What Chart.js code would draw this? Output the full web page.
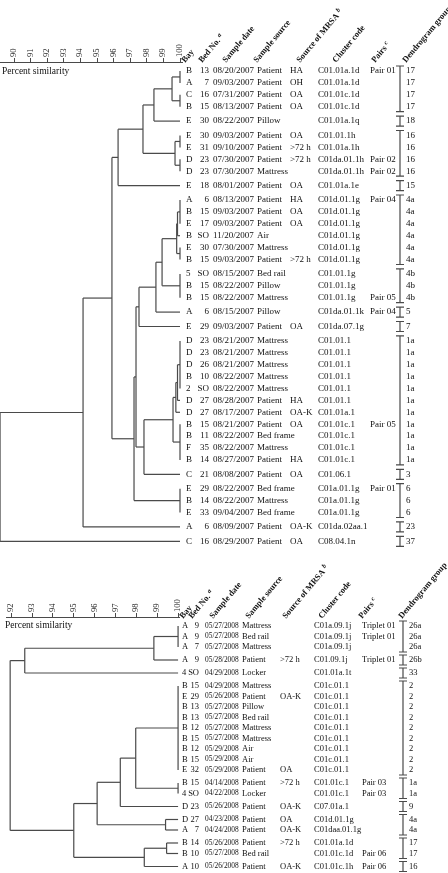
<!DOCTYPE html>
<html>
<head>
<meta charset="utf-8">
<script src="https://cdn.jsdelivr.net/npm/chart.js@4.4.1/dist/chart.umd.min.js"></script>
<style>
  html, body { margin: 0; padding: 0; background: #fff; }
  #wrap { position: relative; width: 448px; height: 873px; overflow: hidden; }
  canvas { position: absolute; left: 0; }
</style>
</head>
<body>
<div id="wrap">
  <canvas id="top2007" width="448" height="560" style="top:0"></canvas>
  <canvas id="bot2008" width="448" height="313" style="top:560px"></canvas>
</div>
<script>
// ---- 2007 isolates (upper dendrogram) ----
const bay07 = ['B','A','C','B','E','E','E','D','D','E','A','B','E','B','E','B','5','B','B','A','E',
  'D','D','D','B','2','D','D','B','B','F','B','C','E','B','E','A','C'];
const bed07 = ['13','7','16','15','30','30','31','23','23','18','6','15','17','SO','30','15','SO','15','15','6','29',
  '23','23','26','10','SO','27','27','15','11','35','14','21','29','14','33','6','16'];
const date07 = ['08/20/2007','09/03/2007','07/31/2007','08/13/2007','08/22/2007','09/03/2007','09/10/2007',
  '07/30/2007','07/30/2007','08/01/2007','08/13/2007','09/03/2007','09/03/2007','11/20/2007','07/30/2007',
  '09/03/2007','08/15/2007','08/22/2007','08/22/2007','08/15/2007','09/03/2007','08/21/2007','08/21/2007',
  '08/21/2007','08/22/2007','08/22/2007','08/28/2007','08/17/2007','08/21/2007','08/22/2007','08/22/2007',
  '08/27/2007','08/08/2007','08/22/2007','08/22/2007','09/04/2007','08/09/2007','08/29/2007'];
const source07 = ['Patient','Patient','Patient','Patient','Pillow','Patient','Patient','Patient','Mattress','Patient',
  'Patient','Patient','Patient','Air','Mattress','Patient','Bed rail','Pillow','Mattress','Pillow','Patient',
  'Mattress','Mattress','Mattress','Mattress','Mattress','Patient','Patient','Patient','Bed frame','Mattress',
  'Patient','Patient','Bed frame','Mattress','Bed frame','Patient','Patient'];
const mrsa07 = ['HA','OH','OA','OA','','OA','>72 h','>72 h','','OA','HA','OA','OA','','','>72 h','','','','','OA',
  '','','','','','HA','OA-K','OA','','','HA','OA','','','','OA-K','OA'];
const cluster07 = ['C01.01a.1d','C01.01a.1d','C01.01c.1d','C01.01c.1d','C01.01a.1q','C01.01.1h','C01.01a.1h',
  'C01da.01.1h','C01da.01.1h','C01.01a.1e','C01d.01.1g','C01d.01.1g','C01d.01.1g','C01d.01.1g','C01d.01.1g',
  'C01d.01.1g','C01.01.1g','C01.01.1g','C01.01.1g','C01da.01.1k','C01da.07.1g','C01.01.1','C01.01.1','C01.01.1',
  'C01.01.1','C01.01.1','C01.01.1','C01.01a.1','C01.01c.1','C01.01c.1','C01.01c.1','C01.01c.1','C01.06.1',
  'C01a.01.1g','C01a.01.1g','C01a.01.1g','C01da.02aa.1','C08.04.1n'];
const pair07 = ['Pair 01','','','','','','','Pair 02','Pair 02','','Pair 04','','','','','','','','Pair 05','Pair 04','',
  '','','','','','','','Pair 05','','','','','Pair 01','','','',''];
const group07 = ['17','17','17','17','18','16','16','16','16','15','4a','4a','4a','4a','4a','4a','4b','4b','4b','5','7',
  '1a','1a','1a','1a','1a','1a','1a','1a','1a','1a','1a','3','6','6','6','23','37'];
// merges: [children (leaf index or earlier node id), percent similarity]
const merges07 = [
  [[0, 1], 100], [[2, 3], 100], [[38, 39], 99.52], [[40, 4], 98.43],
  [[5, 6], 100], [[7, 8], 100], [[42, 43], 99.70], [[41, 44], 97.77], [[45, 9], 96.27],
  [[10, 11, 12], 100], [[47, 13], 99.85], [[14, 15], 100], [[48, 49], 99.80],
  [[16, 17, 18], 100], [[50, 51], 98.92], [[52, 19], 98.55], [[53, 20], 97.53],
  [[21, 22, 23, 24, 25], 100], [[55, 26], 99.85], [[56, 27], 99.75], [[28, 29, 30, 31], 100],
  [[57, 58], 99.58], [[59, 32], 97.83], [[54, 60], 97.35], [[33, 34, 35], 100],
  [[61, 62], 97.23], [[46, 63], 95.90], [[64, 36], 94.16], [[65, 37], 89.16]
];
const ticks07 = [90, 91, 92, 93, 94, 95, 96, 97, 98, 99, 100];

// ---- 2008 isolates (lower dendrogram) ----
const bay08 = ['A','A','A','A','4','B','E','B','B','B','B','B','B','E','B','4','D','D','A','B','B','A'];
const bed08 = ['9','9','7','9','SO','15','29','13','13','12','15','12','15','32','15','SO','23','27','7','14','10','10'];
const date08 = ['05/27/2008','05/27/2008','05/27/2008','05/28/2008','04/29/2008','04/29/2008','05/26/2008',
  '05/27/2008','05/27/2008','05/27/2008','05/27/2008','05/29/2008','05/29/2008','05/29/2008','04/14/2008',
  '04/22/2008','05/26/2008','04/23/2008','04/24/2008','05/26/2008','05/27/2008','05/26/2008'];
const source08 = ['Mattress','Bed rail','Mattress','Patient','Locker','Mattress','Patient','Pillow','Bed rail',
  'Mattress','Mattress','Air','Air','Patient','Patient','Locker','Patient','Patient','Patient','Patient','Bed rail','Patient'];
const mrsa08 = ['','','','>72 h','','','OA-K','','','','','','','OA','>72 h','','OA-K','OA','OA-K','>72 h','','OA-K'];
const cluster08 = ['C01a.09.1j','C01a.09.1j','C01a.09.1j','C01.09.1j','C01.01a.1t','C01c.01.1','C01c.01.1',
  'C01c.01.1','C01c.01.1','C01c.01.1','C01c.01.1','C01c.01.1','C01c.01.1','C01c.01.1','C01.01c.1','C01.01c.1',
  'C07.01a.1','C01d.01.1g','C01daa.01.1g','C01.01a.1d','C01.01c.1d','C01.01c.1h'];
const pair08 = ['Triplet 01','Triplet 01','','Triplet 01','','','','','','','','','','','Pair 03','Pair 03',
  '','','','','Pair 06','Pair 06'];
const group08 = ['26a','26a','26a','26b','33','2','2','2','2','2','2','2','2','2','1a','1a','9','4a','4a','17','17','16'];
const merges08 = [
  [[0, 1, 2], 100], [[22, 3], 98.84], [[23, 4], 92.65],
  [[5, 6, 7, 8, 9, 10, 11, 12, 13], 100], [[14, 15], 100], [[25, 26], 97.97], [[27, 16], 97.23],
  [[17, 18], 99.40], [[28, 29], 96.12], [[19, 20], 99.45], [[31, 21], 98.38],
  [[30, 32], 95.00], [[24, 33], 91.95]
];
const ticks08 = [92, 93, 94, 95, 96, 97, 98, 99, 100];

const headers = ['Bay', 'Bed No.', 'Sample date', 'Sample source', 'Source of MRSA', 'Cluster code', 'Pairs', 'Dendrogram group'];
const headerSup = ['', 'a', '', '', 'b', '', 'c', ''];

const LINE = '#4a4a4a';
const SERIF = '"Liberation Serif", "Times New Roman", serif';

// y value of each leaf row: one unit per row, a small extra gap where the dendrogram group changes
function rowValues(groups, gap) {
  let g = 0;
  return groups.map((grp, i) => {
    if (i > 0 && grp !== groups[i - 1]) g++;
    return i + 1 + g * gap;
  });
}

function treeSegments(merges, rows) {
  const nx = rows.map(() => 100);
  const ny = rows.slice();
  const segs = [];
  merges.forEach(([kids, sim]) => {
    const y0 = ny[kids[0]], y1 = ny[kids[kids.length - 1]];
    kids.forEach(k => {
      if (nx[k] !== sim) segs.push([{ x: nx[k], y: ny[k] }, { x: sim, y: ny[k] }]);
    });
    segs.push([{ x: sim, y: y0 }, { x: sim, y: y1 }]);
    nx.push(sim);
    ny.push((y0 + y1) / 2);
  });
  return segs;
}

function tablePlugin(cfg) {
  return {
    id: 'table_' + cfg.id,
    afterDraw(chart) {
      const ctx = chart.ctx;
      const ys = chart.scales.y;
      const py = i => ys.getPixelForValue(cfg.rows[i]);
      ctx.save();
      ctx.fillStyle = '#111';
      ctx.textBaseline = 'middle';
      cfg.columns.forEach(col => {
        ctx.font = col.font || cfg.rowFont;
        ctx.textAlign = col.align || 'left';
        col.values.forEach((v, i) => { if (v) ctx.fillText(v, col.x, py(i)); });
      });
      // axis caption
      ctx.textAlign = 'left';
      ctx.font = '9.5px ' + SERIF;
      ctx.fillText('Percent similarity', cfg.caption[0], cfg.caption[1]);
      // rotated headers
      headers.forEach((h, i) => {
        ctx.save();
        ctx.translate(cfg.headerX[i], cfg.headerY);
        ctx.rotate(-cfg.headerAngle * Math.PI / 180);
        ctx.textBaseline = 'alphabetic';
        ctx.font = 'bold 8.5px ' + SERIF;
        ctx.fillText(h, 0, 0);
        if (headerSup[i]) {
          const w = ctx.measureText(h + ' ').width;
          ctx.font = 'italic bold 6.5px ' + SERIF;
          ctx.fillText(headerSup[i], w, -3);
        }
        ctx.restore();
      });
      // dendrogram group brackets
      const bx = cfg.bracketX, cap = 5;
      ctx.strokeStyle = LINE;
      ctx.lineWidth = 1.2;
      let start = 0;
      const groups = cfg.groups;
      for (let i = 1; i <= groups.length; i++) {
        if (i === groups.length || groups[i] !== groups[start]) {
          const a = py(start) - cap, b = py(i - 1) + cap;
          ctx.beginPath();
          ctx.moveTo(bx, a); ctx.lineTo(bx, b);
          ctx.moveTo(bx - 4, a); ctx.lineTo(bx + 4, a);
          ctx.moveTo(bx - 4, b); ctx.lineTo(bx + 4, b);
          ctx.stroke();
          start = i;
        }
      }
      ctx.textAlign = 'left';
      ctx.font = cfg.rowFont;
      groups.forEach((g, i) => ctx.fillText(g, bx + 6, py(i)));
      ctx.restore();
    }
  };
}

function makeChart(cfg) {
  const datasets = treeSegments(cfg.merges, cfg.rows).map(s => ({
    data: s, showLine: true, borderColor: LINE, borderWidth: 1.2,
    pointRadius: 0, pointHoverRadius: 0, tension: 0, clip: false
  }));
  return new Chart(document.getElementById(cfg.id), {
    type: 'scatter',
    data: { datasets },
    options: {
      responsive: false,
      animation: false,
      events: [],
      layout: { padding: cfg.padding },
      plugins: { legend: { display: false }, tooltip: { enabled: false } },
      scales: {
        x: {
          type: 'linear', position: 'top', min: cfg.xMin, max: cfg.xMax,
          afterBuildTicks: s => { s.ticks = cfg.ticks.map(v => ({ value: v })); },
          afterFit: s => { s.height = 22; },
          grid: { drawOnChartArea: false, tickLength: 4, color: LINE },
          border: { color: LINE, width: 1 },
          ticks: { autoSkip: false, minRotation: 90, maxRotation: 90, padding: 1, labelOffset: 10, color: '#222',
                   font: { family: SERIF, size: 8.5 }, callback: v => String(v) }
        },
        y: { type: 'linear', reverse: true, min: cfg.yMin, max: cfg.yMax, display: false }
      }
    },
    plugins: [tablePlugin(cfg)]
  });
}

const rows07 = rowValues(group07, 0.21);
makeChart({
  id: 'top2007', merges: merges07, rows: rows07, groups: group07, ticks: ticks07,
  xMin: 90 - 14 / 16.6, xMax: 90 - 14 / 16.6 + 182 / 16.6,
  yMin: 1 - 9 / 11.9, yMax: 1 - 9 / 11.9 + 486 / 11.9,
  padding: { left: 0, right: 266, top: 40, bottom: 12 },
  rowFont: '9px ' + SERIF,
  caption: [2, 71],
  headerX: [185, 202, 226, 257, 300, 336, 375, 406], headerY: 63, headerAngle: 50,
  bracketX: 400,
  columns: [
    { x: 186, values: bay07 },
    { x: 209, values: bed07, align: 'right' },
    { x: 213, values: date07 },
    { x: 257, values: source07 },
    { x: 290, values: mrsa07 },
    { x: 318, values: cluster07 },
    { x: 370, values: pair07 }
  ]
});

const rows08 = rowValues(group08, 0.238);
makeChart({
  id: 'bot2008', merges: merges08, rows: rows08, groups: group08, ticks: ticks08,
  xMin: 92 - 5 / 21.625, xMax: 92 - 5 / 21.625 + 180 / 21.625,
  yMin: 1 - 9 / 10.5, yMax: 1 - 9 / 10.5 + 254 / 10.5,
  padding: { left: 0, right: 268, top: 35, bottom: 2 },
  rowFont: '8.5px ' + SERIF,
  caption: [5, 65],
  headerX: [183, 192, 213, 249, 286, 322, 362, 402], headerY: 59, headerAngle: 50,
  bracketX: 403,
  columns: [
    { x: 182, values: bay08 },
    { x: 199, values: bed08, align: 'right' },
    { x: 205, values: date08, font: '7.4px ' + SERIF },
    { x: 242, values: source08 },
    { x: 280, values: mrsa08 },
    { x: 314, values: cluster08 },
    { x: 362, values: pair08 }
  ]
});
</script>
</body>
</html>
